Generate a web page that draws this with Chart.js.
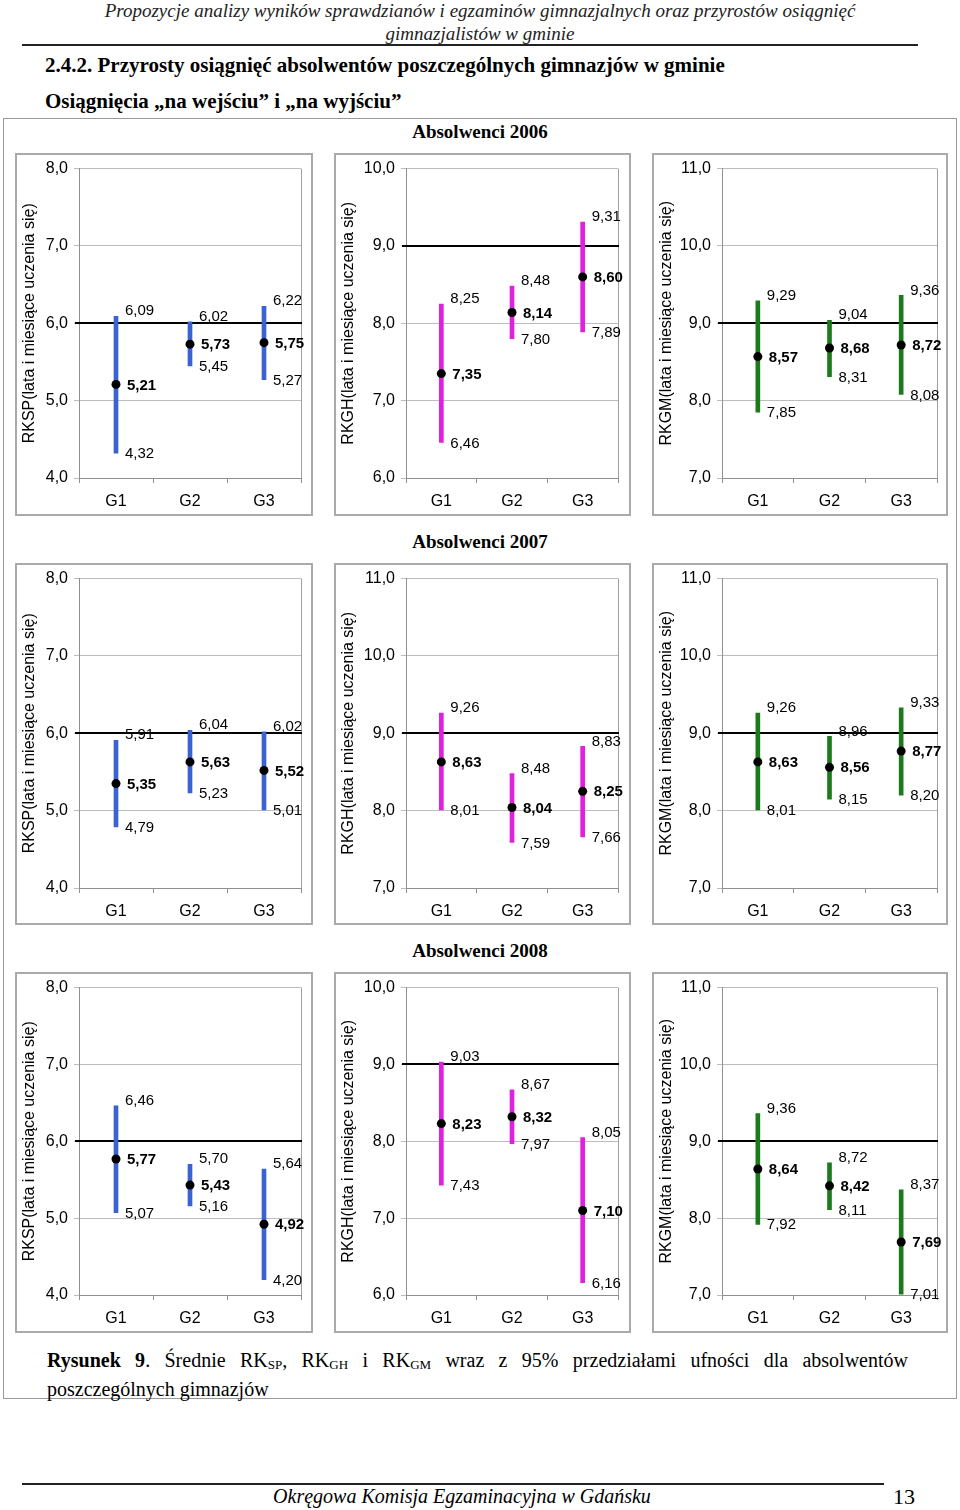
<!DOCTYPE html>
<html>
<head>
<meta charset="utf-8">
<script src="https://cdn.jsdelivr.net/npm/chart.js@4.4.0/dist/chart.umd.min.js"></script>
<style>
  body { margin: 0; width: 960px; height: 1510px; position: relative; background: #fff;
         font-family: "Liberation Serif", "Times New Roman", serif; color: #000; }
  .abs { position: absolute; }
  .hdr { left: 0; width: 960px; top: -1px; text-align: center; font-style: italic; font-size: 19px; line-height: 23px; color: #222; }
  .rule { background: #222; }
  .h { left: 45px; font-weight: bold; font-size: 21px; white-space: nowrap; }
  .frame { border: 1.5px solid #999; box-sizing: border-box; }
  .year { left: 0; width: 960px; text-align: center; font-weight: bold; font-size: 19px; }
  .box { border: 2px solid #aaa; box-sizing: border-box; pointer-events: none; }
  .cap { left: 47px; width: 861px; top: 1348px; font-size: 20px; line-height: 24px; text-align: justify; text-align-last: left; }
  .cap sub { font-size: 13px; vertical-align: -2px; }
  .foot { font-style: italic; font-size: 20px; }
</style>
</head>
<body>
<div class="abs hdr">Propozycje analizy wyników sprawdzianów i egzaminów gimnazjalnych oraz przyrostów osiągnięć<br>gimnazjalistów w gminie</div>
<div class="abs rule" style="left:22px;top:44px;width:896px;height:2px"></div>
<div class="abs h" style="top:53px">2.4.2. Przyrosty osiągnięć absolwentów poszczególnych gimnazjów w gminie</div>
<div class="abs h" style="top:89px">Osiągnięcia „na wejściu” i „na wyjściu”</div>
<div class="abs frame" style="left:3px;top:118px;width:954px;height:1281px"></div>
<div class="abs year" style="top:121px">Absolwenci 2006</div>
<div class="abs year" style="top:531px">Absolwenci 2007</div>
<div class="abs year" style="top:940px">Absolwenci 2008</div>
<div id="panels"></div>
<div class="abs cap"><b>Rysunek 9</b>. Średnie RK<sub>SP</sub>, RK<sub>GH</sub> i RK<sub>GM</sub> wraz z 95% przedziałami ufności dla absolwentów poszczególnych gimnazjów</div>
<div class="abs rule" style="left:22px;top:1483px;width:862px;height:1.5px"></div>
<div class="abs foot" style="left:0;width:924px;text-align:center;top:1485px">Okręgowa Komisja Egzaminacyjna w Gdańsku</div>
<div class="abs" style="left:893px;top:1484px;font-size:22px">13</div>

<script>
// categories
const groups = ['G1', 'G2', 'G3'];

// Absolwenci 2006
const sp06Mean = [5.21, 5.73, 5.75];
const sp06Low  = [4.32, 5.45, 5.27];
const sp06High = [6.09, 6.02, 6.22];
const gh06Mean = [7.35, 8.14, 8.60];
const gh06Low  = [6.46, 7.80, 7.89];
const gh06High = [8.25, 8.48, 9.31];
const gm06Mean = [8.57, 8.68, 8.72];
const gm06Low  = [7.85, 8.31, 8.08];
const gm06High = [9.29, 9.04, 9.36];

// Absolwenci 2007
const sp07Mean = [5.35, 5.63, 5.52];
const sp07Low  = [4.79, 5.23, 5.01];
const sp07High = [5.91, 6.04, 6.02];
const gh07Mean = [8.63, 8.04, 8.25];
const gh07Low  = [8.01, 7.59, 7.66];
const gh07High = [9.26, 8.48, 8.83];
const gm07Mean = [8.63, 8.56, 8.77];
const gm07Low  = [8.01, 8.15, 8.20];
const gm07High = [9.26, 8.96, 9.33];

// Absolwenci 2008
const sp08Mean = [5.77, 5.43, 4.92];
const sp08Low  = [5.07, 5.16, 4.20];
const sp08High = [6.46, 5.70, 5.64];
const gh08Mean = [8.23, 8.32, 7.10];
const gh08Low  = [7.43, 7.97, 6.16];
const gh08High = [9.03, 8.67, 8.05];
const gm08Mean = [8.64, 8.42, 7.69];
const gm08Low  = [7.92, 8.11, 7.01];
const gm08High = [9.36, 8.72, 8.37];

// axis ranges (min, max) per panel: SP, GH, GM
const yRange06 = [[4, 8], [6, 10], [7, 11]];
const yRange07 = [[4, 8], [7, 11], [7, 11]];
const yRange08 = [[4, 8], [6, 10], [7, 11]];
// reference level (black line): SP, GH, GM
const refLevels = [6, 9, 9];
const axisTitles = ['RKSP(lata i miesiące uczenia się)', 'RKGH(lata i miesiące uczenia się)', 'RKGM(lata i miesiące uczenia się)'];
const kindColors = ['#3a62d2', '#e01fe0', '#1c7a1c'];

const comma = (v, d) => v.toFixed(d).replace('.', ',');

// frame of the plot area + reference line
const plotDecor = {
  id: 'plotDecor',
  beforeDatasetsDraw(chart) {
    const {ctx, chartArea: a, scales} = chart;
    ctx.save();
    ctx.strokeStyle = '#a0a0a0';
    ctx.lineWidth = 1;
    ctx.beginPath();
    ctx.moveTo(a.right + 0.5, a.top);
    ctx.lineTo(a.right + 0.5, a.bottom);
    ctx.stroke();
    const yy = Math.round(scales.y.getPixelForValue(chart.$ref));
    ctx.strokeStyle = '#000';
    ctx.lineWidth = 2;
    ctx.beginPath();
    ctx.moveTo(a.left - 4, yy);
    ctx.lineTo(a.right + 1, yy);
    ctx.stroke();
    ctx.restore();
  }
};

// value labels next to each interval
const intervalLabels = {
  id: 'intervalLabels',
  afterDatasetsDraw(chart) {
    const ctx = chart.ctx, y = chart.scales.y;
    const bars = chart.getDatasetMeta(0).data;
    const ranges = chart.data.datasets[0].data;
    const means = chart.data.datasets[1].data;
    ctx.save();
    ctx.fillStyle = '#000';
    ctx.textAlign = 'left';
    ctx.textBaseline = 'middle';
    bars.forEach((b, i) => {
      const x = b.x;
      ctx.font = '15px "Liberation Sans", Arial, sans-serif';
      ctx.fillText(comma(ranges[i][1], 2), x + 9, y.getPixelForValue(ranges[i][1]) - 5);
      ctx.fillText(comma(ranges[i][0], 2), x + 9, y.getPixelForValue(ranges[i][0]) + 1);
      ctx.font = 'bold 15px "Liberation Sans", Arial, sans-serif';
      ctx.fillText(comma(means[i], 2), x + 11, y.getPixelForValue(means[i]) + 1);
    });
    ctx.restore();
  }
};

// page layout of the 3x3 grid
const cols = [
  {x: 15, w: 298, yw: 64, pr: 12},
  {x: 334, w: 297, yw: 72, pr: 13},
  {x: 652, w: 296, yw: 70, pr: 11}
];
const rows = [
  {y: 153, h: 363, pt: 14, xh: 38},
  {y: 563, h: 362, pt: 14, xh: 37},
  {y: 972, h: 361, pt: 14, xh: 38}
];

const panelData = [
  [[sp06Mean, sp06Low, sp06High], [gh06Mean, gh06Low, gh06High], [gm06Mean, gm06Low, gm06High]],
  [[sp07Mean, sp07Low, sp07High], [gh07Mean, gh07Low, gh07High], [gm07Mean, gm07Low, gm07High]],
  [[sp08Mean, sp08Low, sp08High], [gh08Mean, gh08Low, gh08High], [gm08Mean, gm08Low, gm08High]]
];
const panelRanges = [yRange06, yRange07, yRange08];

const host = document.getElementById('panels');
const tickFont = {family: '"Liberation Sans", Arial, sans-serif', size: 16};

rows.forEach((r, ri) => {
  cols.forEach((c, ci) => {
    const [mean, low, high] = panelData[ri][ci];
    const [ymin, ymax] = panelRanges[ri][ci];

    const cv = document.createElement('canvas');
    cv.width = c.w; cv.height = r.h;
    cv.className = 'abs';
    cv.style.left = c.x + 'px'; cv.style.top = r.y + 'px';
    host.appendChild(cv);
    const bx = document.createElement('div');
    bx.className = 'abs box';
    bx.style.cssText = `left:${c.x}px;top:${r.y}px;width:${c.w}px;height:${r.h}px`;
    host.appendChild(bx);

    const chart = new Chart(cv.getContext('2d'), {
      type: 'bar',
      data: {
        labels: groups,
        datasets: [
          {
            data: low.map((v, i) => [v, high[i]]),
            backgroundColor: kindColors[ci],
            barThickness: 4,
            borderSkipped: false,
            order: 2
          },
          {
            type: 'line',
            data: mean,
            showLine: false,
            pointRadius: 4.5,
            pointBackgroundColor: '#000',
            pointBorderColor: '#000',
            pointBorderWidth: 0,
            order: 1
          }
        ]
      },
      options: {
        responsive: false,
        animation: false,
        layout: {padding: {top: r.pt, right: c.pr, left: 0, bottom: 0}},
        plugins: {legend: {display: false}, tooltip: {enabled: false}},
        scales: {
          x: {
            offset: true,
            grid: {offset: true, drawOnChartArea: false, tickLength: 5, color: '#909090'},
            border: {color: '#909090'},
            ticks: {font: tickFont, color: '#000', padding: 9},
            afterFit: s => { s.height = r.xh; }
          },
          y: {
            min: ymin, max: ymax,
            ticks: {stepSize: 1, font: tickFont, color: '#000', padding: 6,
                    callback: v => comma(v, 1)},
            grid: {color: '#bdbdbd', tickLength: 5},
            border: {color: '#909090'},
            title: {display: true, text: axisTitles[ci], color: '#000',
                    font: {family: '"Liberation Sans", Arial, sans-serif', size: 16},
                    padding: {top: 5, bottom: 0}},
            afterFit: s => { s.width = c.yw; }
          }
        }
      },
      plugins: [plotDecor, intervalLabels]
    });
    chart.$ref = refLevels[ci];
    chart.update();
  });
});
</script>
</body>
</html>
